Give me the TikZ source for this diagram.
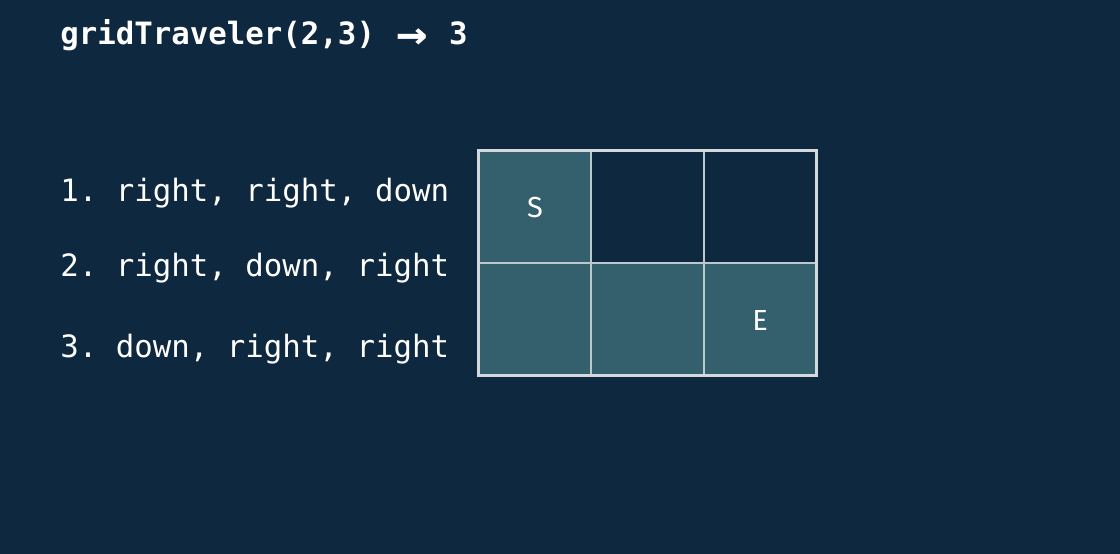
\documentclass[tikz,border=0pt]{standalone}
\usepackage{fontspec}
\setmainfont{Fira Sans}
\setmonofont{DejaVu Sans Mono}
\usetikzlibrary{positioning}
\definecolor{navy}{HTML}{0E283F}
\definecolor{tealcell}{HTML}{345F6C}
\definecolor{gridline}{HTML}{D3DADD}
\tikzset{
	cell/.style={draw=gridline!85!tealcell, line width=0.4mm, minimum width=2.26cm, minimum height=2.25cm, inner sep=0pt, outer sep=0pt, text=white, font=\fontsize{16.5}{18}\selectfont},
	path/.style={anchor=base west, text=white, inner sep=0pt, font=\ttfamily\fontsize{17.5}{19}\selectfont}
}
\begin{document}
\begin{tikzpicture}[x=0.02cm, y=-0.02cm]
					% draw background
					\fill[navy] (0,0) rectangle (1120,554);
					% add title
					\node[path, font=\ttfamily\bfseries\fontsize{17.5}{19}\selectfont] (title) at (60,45) {gridTraveler(2,3) \makebox[1.204em]{\raisebox{-0.14em}{\scalebox{1.7}[1.5]{→}}} 3};
					% list the paths
					\node[path] (p1) at (60,201.5) {1. right, right, down};
					\node[path] (p2) at (60,276) {2. right, down, right};
					\node[path] (p3) at (60,357.5) {3. down, right, right};
					% draw grid
					\node[cell, fill=tealcell] (c11) at (534.5,206.5) {};
					\node[cell, fill=navy, right=0pt of c11] (c12) {};
					\node[cell, fill=navy, right=0pt of c12] (c13) {};
					\node[cell, fill=tealcell, below=0pt of c11] (c21) {};
					\node[cell, fill=tealcell, right=0pt of c21] (c22) {};
					\node[cell, fill=tealcell, right=0pt of c22] (c23) {};
					\draw[gridline, line width=0.6mm] (c11.north west) rectangle (c23.south east);
					% start and end
					\node[text=white, font=\fontsize{16.5}{18}\selectfont] (S) at (535,208) {S};
					\node[text=white, font=\fontsize{16.5}{18}\selectfont] (E) at (760,321) {E};
				\end{tikzpicture}
\end{document}
